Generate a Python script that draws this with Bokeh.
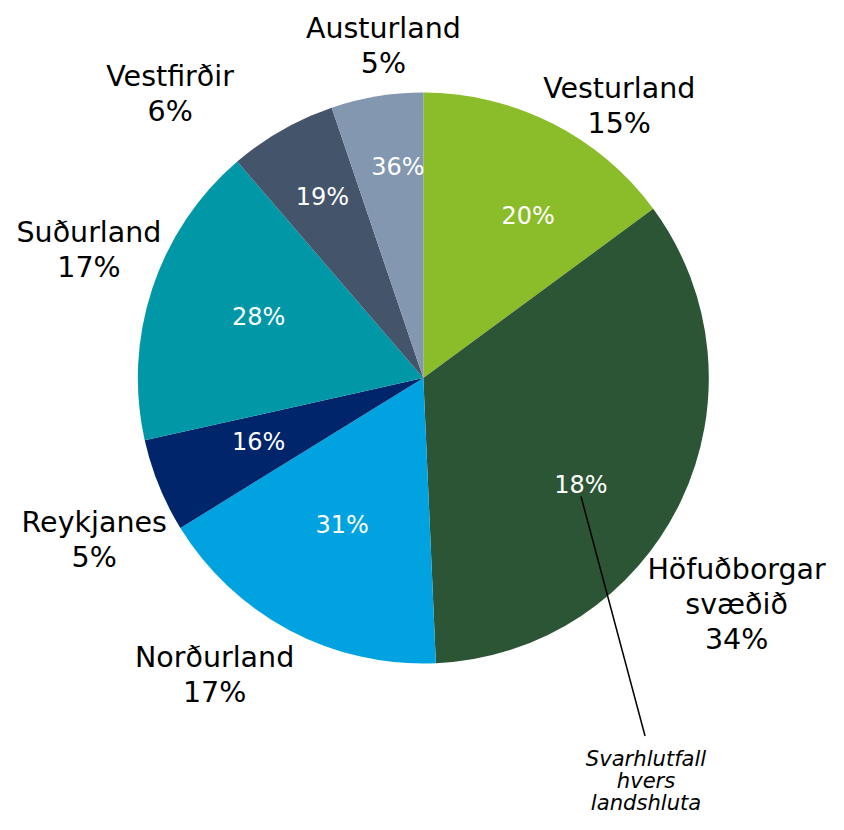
import math
from bokeh.plotting import figure
from bokeh.models import Range1d, ColumnDataSource
from bokeh.core.properties import value
from bokeh.embed import file_html
from bokeh.resources import INLINE

# ---- data ----
regions = ["Vesturland", "Höfuðborgar\nsvæðið", "Norðurland", "Reykjanes",
           "Suðurland", "Vestfirðir", "Austurland"]
shares = [14.9, 34.4, 16.9, 5.3, 17.2, 6.1, 5.2]          # % of respondents
share_labels = ["15%", "34%", "17%", "5%", "17%", "6%", "5%"]
response_rates = ["20%", "18%", "31%", "16%", "28%", "19%", "36%"]
colors = ["#8BBD2A", "#2C5535", "#00A3E0", "#00256A", "#0097A7", "#44546A", "#8497B0"]
annotation = ["Svarhlutfall", "hvers", "landshluta"]

# ---- layout (design space 844 x 830, drawn into 828 x 814 px) ----
W, H = 828, 814
DW, DH = 844, 830
S = W / DW
CX, CY, R = 431, -385, 291
FONT = "DejaVu Sans"
inner_offsets = [(6, 197), (8.5, 194), (1, 171), (1, 180), (2, 179), (0.5, 211), (2.5, 217)]
outer_offsets = [(8.9, 342), (10.3, 394), (7.2, 370), (-4.1, 374), (2.6, 365), (-12, 388), (2.5, 341)]
OUT_SIZE, IN_SIZE, ANN_SIZE = 29 * S, 24.5 * S, 21.5 * S
OUT_LH, ANN_LH = 36, 22.5

p = figure(width=W, height=H, x_range=Range1d(0, DW), y_range=Range1d(-DH, 0),
           output_backend="svg", toolbar_location=None, min_border=0)
p.axis.visible = False
p.grid.visible = False
p.outline_line_color = None
p.background_fill_color = "white"
p.border_fill_color = "white"

total = sum(shares)
cum = 0.0
starts, ends, mids = [], [], []
for s in shares:
    a0 = cum / total * 2 * math.pi
    cum += s
    a1 = cum / total * 2 * math.pi
    # clockwise from 12 o'clock -> standard angles
    starts.append(math.pi / 2 - a1)
    ends.append(math.pi / 2 - a0)
    mids.append(math.degrees((a0 + a1) / 2))

src = ColumnDataSource(dict(start=starts, end=ends, color=colors))
p.wedge(x=CX, y=CY, radius=R, start_angle="start", end_angle="end",
        fill_color="color", line_color=None, source=src)

def polar(deg, dist):
    a = math.radians(deg)
    return CX + dist * math.sin(a), CY + dist * math.cos(a)

# inner labels (response rate)
ix, iy = [], []
for m, (off, d) in zip(mids, inner_offsets):
    x, y = polar(m + off, d)
    ix.append(x); iy.append(y)
p.text(x=ix, y=iy, text=response_rates, text_color="white", text_font=value(FONT),
       text_font_size=f"{IN_SIZE:.1f}px", text_align="center", text_baseline="middle")

# outer labels
tx, ty, tt = [], [], []
for m, (off, d), name, lab in zip(mids, outer_offsets, regions, share_labels):
    lines = name.split("\n") + [lab]
    cx, cy = polar(m + off, d)
    n = len(lines)
    for k, ln in enumerate(lines):
        tx.append(cx)
        ty.append(cy + ((n - 1) / 2 - k) * OUT_LH)
        tt.append(ln)
p.text(x=tx, y=ty, text=tt, text_color="black", text_font=value(FONT),
       text_font_size=f"{OUT_SIZE:.1f}px", text_align="center", text_baseline="middle")

# annotation for response rates
hx, hy = ix[1], iy[1] - 12
ax, ay = 657, -750
p.segment(x0=[hx], y0=[hy], x1=[ax], y1=[ay], line_color="black", line_width=1.5)
p.text(x=[ax + 1] * 3, y=[ay - 23 - ANN_LH * k for k in range(3)], text=annotation,
       text_color="black", text_font=value(FONT), text_font_style="italic",
       text_font_size=f"{ANN_SIZE:.1f}px", text_align="center", text_baseline="middle")

open("out.html", "w").write(file_html(p, INLINE))
